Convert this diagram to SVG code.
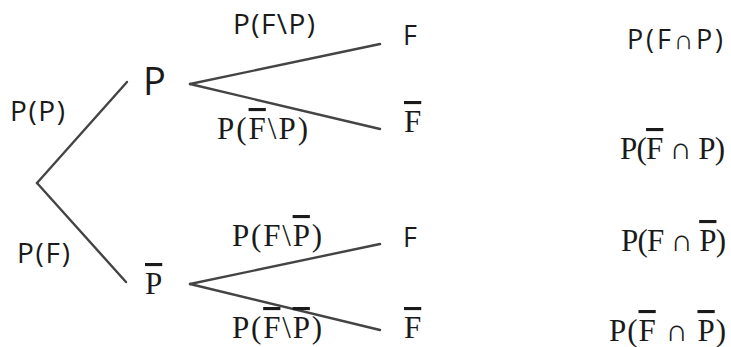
<svg xmlns="http://www.w3.org/2000/svg" width="731" height="347" viewBox="0 0 731 347">
<style>
.s{font-family:"Open Sans","Liberation Sans",sans-serif;fill:#1a1a1a;}
.r{font-family:"Liberation Serif","DejaVu Serif",serif;fill:#1a1a1a;}
.ov{text-decoration:overline;}
.e{stroke:#444444;stroke-width:2.4;fill:none;stroke-linecap:round;}
</style>
<rect width="731" height="347" fill="#ffffff"/>
<g id="connectors">
<line class="e" x1="37" y1="183" x2="127" y2="82"/>
<line class="e" x1="37" y1="183" x2="126" y2="282"/>
<line class="e" x1="190" y1="84" x2="380" y2="44"/>
<line class="e" x1="190" y1="84" x2="380" y2="129"/>
<line class="e" x1="190" y1="284" x2="380" y2="244"/>
<line class="e" x1="190" y1="284" x2="380" y2="330"/>
</g>
<g id="edge-labels">
<text class="s" x="10" y="121" font-size="28" textLength="55">P(P)</text>
<text class="s" x="17" y="263" font-size="28" textLength="53">P(F)</text>
<text class="s" x="233" y="34" font-size="28" textLength="82">P(F\P)</text>
<text class="r" x="217" y="139" font-size="31" textLength="91">P(<tspan class="ov">F</tspan>\P)</text>
<text class="r" x="232" y="246" font-size="31" textLength="90">P(F\<tspan class="ov">P</tspan>)</text>
<text class="r" x="232" y="338" font-size="31" textLength="90">P(<tspan class="ov">F</tspan>\<tspan class="ov">P</tspan>)</text>
</g>
<g id="node-root"/>
<g id="node-P">
<text class="s" x="143" y="95" font-size="38">P</text>
</g>
<g id="node-Pbar">
<text class="r" x="145" y="294" font-size="31"><tspan class="ov">P</tspan></text>
</g>
<g id="node-F1">
<text class="s" x="403" y="45" font-size="27">F</text>
</g>
<g id="node-Fbar1">
<text class="r" x="404" y="132" font-size="31"><tspan class="ov">F</tspan></text>
</g>
<g id="node-F2">
<text class="s" x="403" y="247" font-size="27">F</text>
</g>
<g id="node-Fbar2">
<text class="r" x="404" y="338" font-size="31"><tspan class="ov">F</tspan></text>
</g>
<g id="results">
<text class="s" x="627" y="49" font-size="27" textLength="96">P(F∩P)</text>
<text class="r" x="620" y="159" font-size="31" textLength="105">P(<tspan class="ov">F</tspan> ∩ P)</text>
<text class="r" x="621" y="251" font-size="31" textLength="105">P(F ∩ <tspan class="ov">P</tspan>)</text>
<text class="r" x="609" y="341" font-size="31" textLength="117">P(<tspan class="ov">F</tspan> ∩ <tspan class="ov">P</tspan>)</text>
</g>
</svg>
